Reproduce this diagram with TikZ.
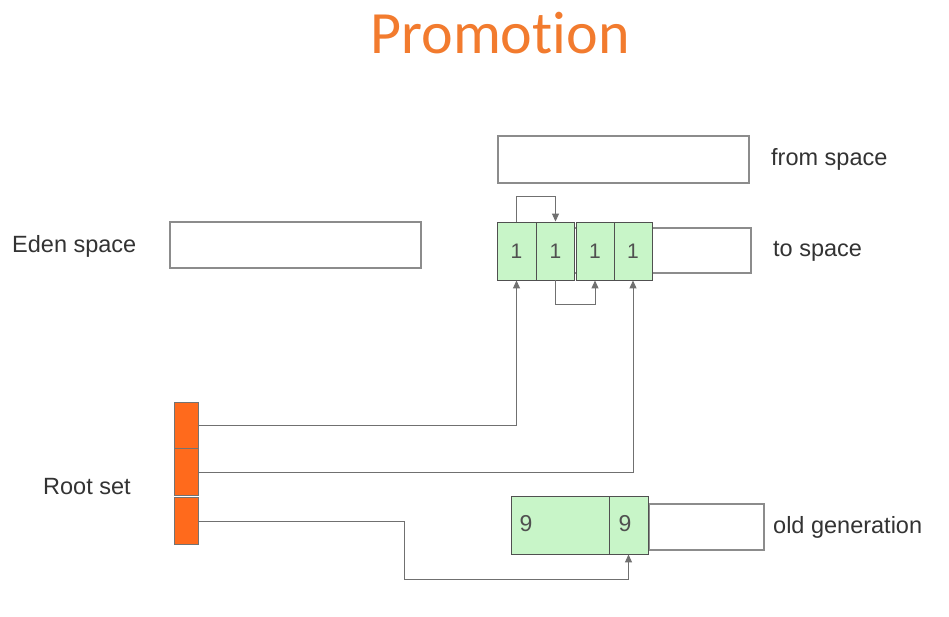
\documentclass[tikz,border=0pt]{standalone}
\usepackage{fontspec}
\setmainfont{Liberation Sans}
\newfontfamily\titlefont[Ligatures=NoCommon]{Carlito}
\usetikzlibrary{arrows.meta}
\definecolor{cellgreen}{HTML}{C8F5C8}
\definecolor{rootorange}{HTML}{FF6A1C}
\definecolor{titleorange}{HTML}{F27B2E}
\definecolor{boxgrey}{HTML}{8C8C8C}
\definecolor{cellgrey}{HTML}{505050}
\definecolor{linegrey}{HTML}{707070}
\definecolor{txt}{HTML}{333333}
\tikzset{
  spacebox/.style={draw=boxgrey, line width=1.1pt, fill=white, inner sep=0pt},
  cell/.style={draw=cellgrey, line width=0.9pt, fill=cellgreen, inner sep=0pt, text=cellgrey, font=\fontsize{21}{21}\selectfont},
  rootcell/.style={draw=cellgrey!80, line width=0.9pt, fill=rootorange, inner sep=0pt, minimum width=24pt},
  lbl/.style={anchor=base west, text=txt, font=\fontsize{23.5}{23.5}\selectfont, inner sep=0pt},
  arr/.style={draw=linegrey, line width=1pt, -{Triangle[length=8pt,width=7pt]}},
  ln/.style={draw=linegrey, line width=1pt}
}
\begin{document}
\begin{tikzpicture}[x=1pt,y=-1pt]
\useasboundingbox[fill=white] (0,0) rectangle (949,616);
% title
\node[anchor=base, text=titleorange, font=\titlefont\fontsize{60}{60}\selectfont, inner sep=0pt] (title) at (500,53) {Promotion};
% from space
\node[spacebox, minimum width=251pt, minimum height=47pt] (from) at (623.5,159.5) {};
\node[lbl] (fromlbl) at (771,165) {from space};
% eden
\node[spacebox, minimum width=251pt, minimum height=46pt] (eden) at (295.5,245) {};
\node[lbl] (edenlbl) at (12,252) {Eden space};
% to space
\node[spacebox, minimum width=248pt, minimum height=45pt] (to) at (627,250.5) {};
\node[cell, minimum width=39pt, minimum height=58pt] (c1) at (516.5,251) {1};
\node[cell, minimum width=38pt, minimum height=58pt] (c2) at (555.5,251) {1};
\node[cell, minimum width=38pt, minimum height=58pt] (c3) at (595,251) {1};
\node[cell, minimum width=38pt, minimum height=58pt] (c4) at (633,251) {1};
\node[lbl] (tolbl) at (773,256) {to space};
% copies inside to space
\draw[arr] (c1.north) -- ++(0,-25) -| (c2.north);
\draw[arr] (c2.south) -- ++(0,24) -| (c3.south);
% root set
\node[rootcell, minimum height=46pt] (r1) at (186,425) {};
\node[rootcell, minimum height=47pt] (r2) at (186,472) {};
\node[rootcell, minimum height=47pt] (r3) at (186,521) {};
\node[lbl] (rootlbl) at (43,494) {Root set};
% old generation
\node[spacebox, minimum width=115pt, minimum height=46pt] (old) at (706.5,527) {};
\node[cell, minimum width=98pt, minimum height=58pt] (o1) at (560,525) {};
\node[cell, minimum width=39pt, minimum height=58pt] (o2) at (628.5,525) {};
\node[text=cellgrey, font=\fontsize{23}{23}\selectfont, inner sep=0pt] (o1t) at (526,524) {9};
\node[text=cellgrey, font=\fontsize{23}{23}\selectfont, inner sep=0pt] (o2t) at (625,524) {9};
\node[lbl] (oldlbl) at (773,533) {old generation};
% references
\draw[arr] (r1.east) -| (c1.south);
\draw[arr] (r2.east) -| (c4.south);
\coordinate (bend) at (404,579);
\draw[arr] (r3.east) -| (bend) -| (o2.south);
\end{tikzpicture}
\end{document}
